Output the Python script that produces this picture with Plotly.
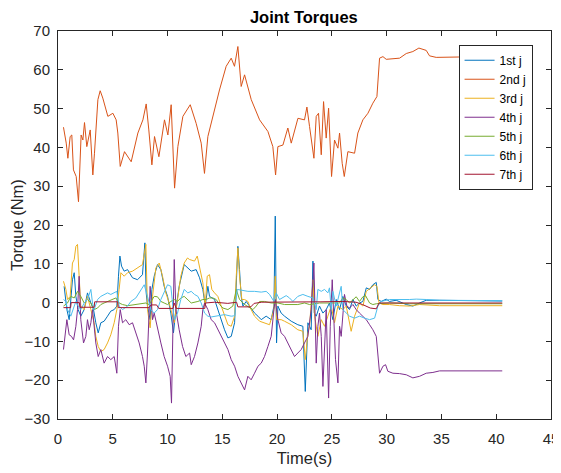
import plotly.graph_objects as go

# ---------------- data (time s, torque Nm) ----------------
series_names = ["1st j", "2nd j", "3rd j", "4th j", "5th j", "6th j", "7th j"]
series_colors = ["#0072BD", "#D95319", "#EDB120", "#7E2F8E", "#77AC30", "#4DBEEE", "#A2142F"]

j1 = [(0.56, 4.2), (0.81, -1.8), (1.02, -4.4), (1.32, 5.9), (1.48, 7.7), (1.63, 1.6), (1.84, -1.8),
      (2.08, -3.5), (2.39, -1.8), (2.69, 2.5), (3.00, -0.1), (3.24, -1.8), (3.45, -5.2), (3.67, -7.8),
      (3.91, -5.2), (4.21, -4.8), (4.52, -3.5), (4.82, -2.2), (5.13, -1.8), (5.37, -0.9), (5.52, 6.8),
      (5.65, 12.0), (5.80, 9.4), (6.04, 8.1), (6.35, 8.5), (6.80, 6.4), (7.26, 5.9), (7.71, 7.2),
      (7.93, 15.4), (8.05, 2.5), (8.17, -0.9), (8.41, -4.4), (8.57, 3.4), (8.78, 6.8), (9.08, 9.8),
      (9.39, 8.5), (9.69, 4.2), (10.00, 1.6), (10.30, -2.7), (10.54, -7.8), (10.76, -1.8), (11.06, 4.2),
      (11.52, 9.8), (12.16, 8.1), (12.61, 8.5), (12.92, 6.4), (13.22, 3.4), (13.44, -0.9), (13.68, 4.2),
      (13.83, 1.6), (14.29, 0.8), (14.59, -1.8), (14.90, -4.4), (15.20, -7.0), (15.51, -9.1), (15.81, -8.7),
      (16.12, -5.2), (16.27, 4.2), (16.42, 14.5), (16.57, 8.5), (16.72, 1.6), (16.88, -0.9), (17.18, 0.3),
      (17.48, -0.9), (17.94, -2.7), (18.25, -3.5), (18.55, -4.4), (19.00, -3.5), (19.46, -4.4),
      (19.71, -0.9), (19.83, 22.3), (19.95, -10.4), (20.07, -0.9), (20.37, -2.7), (20.68, -3.5),
      (21.29, -4.8), (21.89, -5.7), (22.35, -6.1), (22.57, -22.9), (22.81, -5.2), (23.11, -7.0),
      (23.27, 10.7), (23.39, -2.7), (23.57, -3.5), (23.87, -0.9), (24.18, -2.7), (24.48, -1.8),
      (24.78, -0.1), (25.09, -4.4), (25.40, 0.8), (25.70, -1.8), (26.00, 1.6), (26.31, -0.9),
      (26.61, -1.8), (26.92, 0.8), (27.22, -0.9), (27.52, -0.1), (27.83, 0.3), (28.14, 3.8),
      (28.44, 3.4), (28.74, 4.6), (29.05, 5.2), (29.20, 0.8), (29.50, 0.3), (29.96, 0.9), (30.26, 0.3),
      (30.87, 0.6), (31.79, -0.5), (32.39, -0.9), (33.00, -0.1), (33.61, 0.6), (34.83, 0.6), (40.55, 0.4)]

j2 = [(0.50, 45.2), (0.75, 41.1), (0.90, 37.2), (1.11, 42.8), (1.26, 43.2), (1.41, 34.2), (1.66, 32.5),
      (1.87, 26.0), (2.11, 43.2), (2.27, 41.9), (2.42, 46.4), (2.63, 40.2), (2.94, 44.5), (3.18, 32.9),
      (3.33, 38.5), (3.64, 52.3), (3.85, 54.6), (4.09, 52.7), (4.55, 48.0), (5.01, 48.8), (5.31, 47.1),
      (5.46, 43.7), (5.68, 35.1), (6.07, 38.9), (6.68, 36.3), (7.29, 43.7), (7.75, 47.1), (8.05, 51.2),
      (8.29, 44.5), (8.57, 35.5), (8.81, 42.8), (9.21, 37.6), (9.72, 47.1), (10.03, 43.2), (10.33, 51.0),
      (10.64, 29.5), (10.94, 40.2), (11.40, 48.0), (12.07, 51.0), (12.61, 46.2), (13.07, 41.1),
      (13.37, 33.3), (13.68, 42.8), (14.29, 50.1), (14.74, 54.8), (15.35, 60.9), (15.81, 63.0),
      (16.11, 60.9), (16.42, 66.0), (16.72, 55.7), (17.03, 58.7), (17.64, 52.3), (18.40, 47.1),
      (19.16, 44.1), (19.61, 40.2), (19.86, 32.9), (20.07, 40.2), (20.53, 40.6), (20.98, 45.0),
      (21.29, 41.1), (21.90, 47.5), (22.50, 47.1), (22.72, 50.4), (22.96, 45.4), (23.36, 37.2),
      (23.57, 48.0), (23.78, 48.8), (24.03, 38.1), (24.24, 51.8), (24.48, 42.4), (24.70, 50.1),
      (24.97, 32.5), (25.24, 41.9), (25.55, 39.8), (25.70, 43.7), (25.94, 35.9), (26.13, 32.5),
      (26.46, 38.9), (27.07, 38.5), (27.37, 43.7), (27.83, 47.1), (28.29, 48.8), (28.74, 51.4),
      (29.11, 53.1), (29.35, 63.0), (29.66, 63.4), (29.96, 62.7), (31.18, 63.0), (31.79, 64.2),
      (32.39, 64.7), (32.94, 65.6), (33.61, 65.0), (33.91, 63.6), (34.52, 63.2), (35.43, 63.3),
      (36.59, 63.3), (40.55, 63.3)]

j3 = [(0.50, 5.5), (0.72, 3.4), (0.87, 0.8), (1.11, 1.6), (1.32, 10.2), (1.48, 11.1), (1.63, 14.5),
      (1.78, 15.0), (1.93, 6.8), (2.08, -0.9), (2.39, -1.8), (2.69, 1.6), (3.00, -1.8), (3.30, -5.2),
      (3.45, -8.7), (3.67, -11.3), (3.91, -12.6), (4.21, -12.1), (4.52, -10.4), (4.82, -8.3),
      (5.13, -5.2), (5.37, -1.8), (5.58, 3.4), (5.74, 7.7), (6.04, 6.8), (6.35, 7.7), (6.80, 8.1),
      (7.26, 8.9), (7.71, 9.8), (8.02, 15.0), (8.17, -1.8), (8.41, -6.5), (8.63, 1.6), (8.93, 8.9),
      (9.24, 10.2), (9.54, 6.8), (9.84, 2.5), (10.15, -0.1), (10.45, -3.5), (10.61, -5.2), (10.91, 0.8),
      (11.21, 6.8), (11.52, 10.2), (11.82, 11.5), (12.01, 11.1), (12.46, 10.7), (12.71, 12.0),
      (12.92, 9.4), (13.22, 5.1), (13.44, -0.9), (13.62, 6.8), (13.83, 7.2), (14.04, 3.4), (14.29, 2.5),
      (14.59, 1.6), (14.90, -0.9), (15.20, -3.5), (15.51, -5.7), (15.81, -6.1), (16.12, -3.5),
      (16.27, 6.8), (16.42, 14.1), (16.57, 6.8), (16.78, 0.8), (17.03, 0.8), (17.33, 0.3), (17.63, -1.8),
      (17.94, -3.5), (18.40, -4.8), (18.85, -5.2), (19.31, -5.7), (19.71, -1.8), (19.83, 6.8),
      (19.95, -4.4), (20.37, -4.4), (20.68, -4.8), (21.29, -5.7), (21.89, -7.0), (22.35, -7.4),
      (22.57, -14.7), (22.81, -7.8), (22.96, -6.1), (23.27, 5.9), (23.42, -3.5), (23.72, -8.7),
      (24.03, -4.4), (24.33, -6.1), (24.63, -3.5), (24.94, -0.9), (25.24, -5.2), (25.55, -0.9),
      (26.00, -1.8), (26.31, -0.9), (26.76, -7.4), (27.07, -3.5), (27.52, -0.1), (27.83, -0.9),
      (28.14, 2.9), (28.59, 3.8), (28.90, 4.6), (29.11, 4.2), (29.30, -0.1), (29.66, -0.5),
      (30.26, -0.5), (31.18, -0.8), (32.09, -0.9), (33.00, -0.5), (34.83, -0.8), (40.55, -0.8)]

j4 = [(0.50, -12.1), (0.62, -9.6), (0.81, -4.4), (1.02, -8.3), (1.23, -8.7), (1.42, -9.6), (1.63, -6.1),
      (1.78, -1.8), (1.93, 6.8), (2.08, -4.4), (2.33, -10.4), (2.54, -8.7), (2.69, -4.4), (2.85, -7.0),
      (3.00, -5.2), (3.15, -1.8), (3.30, -7.0), (3.45, -10.4), (3.67, -13.9), (3.91, -12.1),
      (4.21, -15.6), (4.52, -13.9), (4.82, -14.7), (5.13, -13.9), (5.37, -18.2), (5.52, -6.1),
      (5.68, -1.8), (5.89, -5.2), (6.19, -4.4), (6.50, -5.7), (6.80, -5.2), (7.11, -7.8), (7.41, -10.4),
      (7.71, -13.9), (7.87, -16.4), (8.02, -20.7), (8.17, -13.0), (8.41, 4.2), (8.63, -4.4),
      (8.78, -2.7), (9.08, -6.1), (9.39, -10.4), (9.69, -13.9), (10.00, -16.4), (10.24, -19.0),
      (10.36, -25.9), (10.61, 11.1), (10.76, -1.8), (11.06, -7.0), (11.37, -11.3), (11.67, -13.9),
      (12.01, -13.0), (12.16, -16.0), (12.46, -13.9), (12.77, -10.4), (13.07, -6.1), (13.22, -1.8),
      (13.38, -0.1), (13.68, -1.8), (13.98, -4.4), (14.29, -5.2), (14.59, -7.0), (14.90, -8.7),
      (15.20, -10.4), (15.51, -12.1), (15.81, -14.7), (16.12, -16.4), (16.42, -19.0), (16.72, -20.7),
      (17.03, -22.5), (17.33, -19.0), (17.63, -19.9), (17.94, -18.2), (18.25, -16.4), (18.55, -15.6),
      (18.85, -13.9), (19.16, -11.3), (19.46, -8.7), (19.71, -1.8), (19.83, 0.8), (20.07, -4.4),
      (20.37, -7.8), (20.68, -8.7), (20.98, -10.4), (21.29, -12.1), (21.59, -13.9), (21.89, -13.0),
      (22.20, -12.1), (22.50, -10.4), (22.81, -8.7), (23.11, -1.8), (23.36, 10.2), (23.57, -15.6),
      (23.72, -6.1), (23.87, -2.7), (24.03, -8.7), (24.18, -21.6), (24.33, -12.1), (24.48, -1.8),
      (24.70, -24.6), (24.85, -6.1), (25.03, 5.9), (25.15, -4.4), (25.33, -14.7), (25.55, -20.7),
      (25.70, -6.1), (25.85, -8.7), (26.00, -1.8), (26.15, 2.1), (26.37, -0.9), (26.61, -1.4),
      (26.92, -0.5), (27.22, -1.8), (27.52, -2.7), (27.83, -3.5), (28.14, -4.4), (28.44, -5.7),
      (28.74, -7.0), (29.05, -8.7), (29.20, -13.9), (29.35, -18.2), (29.66, -16.4), (29.90, -16.0),
      (30.11, -17.7), (30.57, -18.2), (31.18, -18.3), (31.79, -18.6), (32.39, -19.4), (33.00, -19.0),
      (33.61, -18.2), (34.22, -18.0), (34.83, -17.6), (40.55, -17.6)]

j5 = [(0.50, -0.9), (0.87, -0.1), (1.17, 1.6), (1.48, 1.2), (1.78, 2.9), (2.08, 1.6), (2.39, -0.1),
      (2.69, 0.8), (3.00, -0.1), (3.30, -1.8), (3.61, -1.4), (3.91, -0.5), (4.21, -0.1), (4.52, 0.3),
      (4.82, 0.8), (5.28, 1.2), (5.58, -0.1), (5.89, -0.5), (6.35, -0.8), (6.95, -0.5), (7.56, -0.3),
      (8.02, -0.1), (8.32, -0.5), (8.78, 1.6), (9.08, 1.5), (9.39, 0.3), (9.69, -0.1), (10.00, -0.5),
      (10.30, 0.3), (10.61, 0.8), (10.91, 0.3), (11.21, 1.2), (11.52, 1.6), (12.16, -0.1), (12.77, 0.3),
      (13.22, 0.8), (13.53, 0.8), (13.83, 1.2), (14.14, 1.2), (14.44, 0.8), (14.75, -0.5), (15.05, -1.4),
      (15.51, -1.8), (15.96, -0.9), (16.27, 3.4), (16.57, 0.8), (17.03, -0.5), (17.48, -1.4),
      (17.79, -1.8), (18.09, -0.9), (18.40, 0.3), (18.85, 0.3), (19.46, -0.1), (20.07, -0.1),
      (20.68, -0.5), (21.89, -0.5), (22.50, -0.1), (22.96, -0.5), (23.87, -0.1), (24.78, -0.1),
      (25.70, -0.1), (26.00, 1.2), (26.31, 0.8), (26.61, -0.1), (26.92, 0.8), (27.22, 1.5), (27.52, 0.3),
      (27.83, 1.5), (28.07, 1.8), (28.44, -0.1), (28.74, -0.5), (29.05, -0.3), (30.26, -0.1),
      (32.09, -0.3), (40.55, -0.3)]

j6 = [(0.50, 0.8), (0.72, 0.3), (0.87, -1.8), (1.17, -3.5), (1.42, -1.4), (1.63, 0.3), (1.84, -0.9),
      (2.08, -1.8), (2.39, -0.1), (2.69, 0.8), (3.00, 3.4), (3.15, -0.1), (3.30, -1.8), (3.61, 0.8),
      (3.91, 1.6), (4.21, 2.1), (4.52, 2.5), (4.82, 2.1), (5.13, 2.5), (5.37, 2.9), (5.58, -0.9),
      (5.89, -1.8), (6.35, -0.9), (6.65, 0.3), (7.11, 1.2), (7.56, 3.4), (7.87, 4.6), (8.17, 1.6),
      (8.48, -1.8), (8.78, -2.7), (9.08, -1.8), (9.39, 0.8), (9.69, 2.9), (10.00, 4.6), (10.30, 4.2),
      (10.61, -4.4), (10.91, -2.7), (11.21, 0.8), (11.52, 3.4), (11.85, 2.5), (12.16, 2.9), (12.46, 2.1),
      (12.77, 1.6), (13.07, -0.1), (13.38, -2.7), (13.68, -3.5), (13.98, -3.7), (14.59, -3.4),
      (15.20, -3.1), (15.81, -3.5), (16.12, -3.4), (16.36, 3.4), (16.72, 3.2), (17.33, 2.9),
      (17.94, 2.9), (18.55, 2.7), (19.00, 2.9), (19.31, 2.1), (19.71, 0.3), (19.92, 2.5), (20.22, 0.8),
      (20.53, 1.2), (20.83, 1.8), (21.13, 1.2), (21.44, 0.3), (21.89, 1.6), (22.35, 2.1), (22.81, 1.6),
      (23.27, 1.2), (23.57, -1.8), (23.72, 3.4), (24.03, 2.9), (24.33, 3.4), (24.63, 2.5), (24.78, 3.8),
      (24.94, -1.8), (25.09, 2.9), (25.40, -0.9), (25.70, 2.5), (25.85, 4.2), (26.00, -1.8),
      (26.31, -2.7), (26.61, -3.5), (27.07, -4.0), (27.52, -3.5), (27.98, -4.0), (28.44, -4.4),
      (28.90, -4.0), (29.20, -0.9), (29.50, 0.3), (30.26, 0.8), (32.09, 0.8), (32.70, 0.9),
      (33.61, 0.8), (34.83, 0.6), (40.55, 0.5)]

j7 = [(0.50, -1.3), (1.15, -1.3), (1.20, 0.0), (1.95, 0.0), (2.00, -1.2), (3.30, -1.2), (3.35, 0.2),
      (5.45, 0.2), (5.50, -1.3), (8.30, -1.3), (8.50, -0.6), (9.00, -0.6), (9.20, -1.5), (10.50, -1.5),
      (10.60, -0.1), (10.80, -1.5), (13.40, -1.5), (13.45, -0.1), (14.30, 0.1), (15.50, -0.2),
      (16.30, 0.1), (16.42, -1.1), (17.60, -1.1), (17.90, -0.2), (18.60, 0.1), (21.00, 0.1),
      (24.00, 0.2), (26.00, 0.3), (27.20, 0.1), (27.80, -0.5), (28.50, -1.4), (29.05, -1.6),
      (29.30, -0.1), (40.55, -0.1)]

series_data = [j1, j2, j3, j4, j5, j6, j7]

x_ticks = [0, 5, 10, 15, 20, 25, 30, 35, 40, 45]
y_ticks = [-30, -20, -10, 0, 10, 20, 30, 40, 50, 60, 70]

# ---------------- figure ----------------
FONT = "Liberation Sans, Arial, Helvetica, sans-serif"
AX = "#262626"

fig = go.Figure()
for name, color, pts in zip(series_names, series_colors, series_data):
    fig.add_trace(go.Scatter(
        x=[p[0] for p in pts], y=[p[1] for p in pts], mode="lines", name=name,
        line=dict(color=color, width=1)))

axis_common = dict(
    showgrid=False, zeroline=False, showline=True, linecolor=AX, linewidth=1,
    mirror="ticks", ticks="inside", ticklen=5, tickcolor=AX, tickwidth=1,
    automargin=False,
    tickfont=dict(family=FONT, size=15, color=AX))

# page body adds an 8px offset, so the figure is sized to the remaining area
fig.update_layout(
    width=553, height=465,
    margin=dict(l=50, r=10, t=23, b=54),
    paper_bgcolor="white", plot_bgcolor="white",
    title=dict(text="<b>Joint Torques</b>", x=0.535, xanchor="center",
               y=1 - 9 / 465, yanchor="middle", automargin=False,
               font=dict(family=FONT, size=16.5, color="black")),
    xaxis=dict(range=[0, 45], tickvals=x_ticks, ticklabelstandoff=6,
               title=dict(text="Time(s)", standoff=6,
                          font=dict(family=FONT, size=16.5, color=AX)),
               **axis_common),
    yaxis=dict(range=[-30, 70], tickvals=y_ticks, ticklabelstandoff=4,
               title=dict(text="Torque (Nm)", standoff=6,
                          font=dict(family=FONT, size=16.5, color=AX)),
               **axis_common),
    legend=dict(x=0.8125, y=0.9646, xanchor="left", yanchor="top",
                bgcolor="white", bordercolor=AX, borderwidth=1,
                font=dict(family=FONT, size=12, color="black"),
                tracegroupgap=0),
    showlegend=True,
)

fig.write_html("out.html")
